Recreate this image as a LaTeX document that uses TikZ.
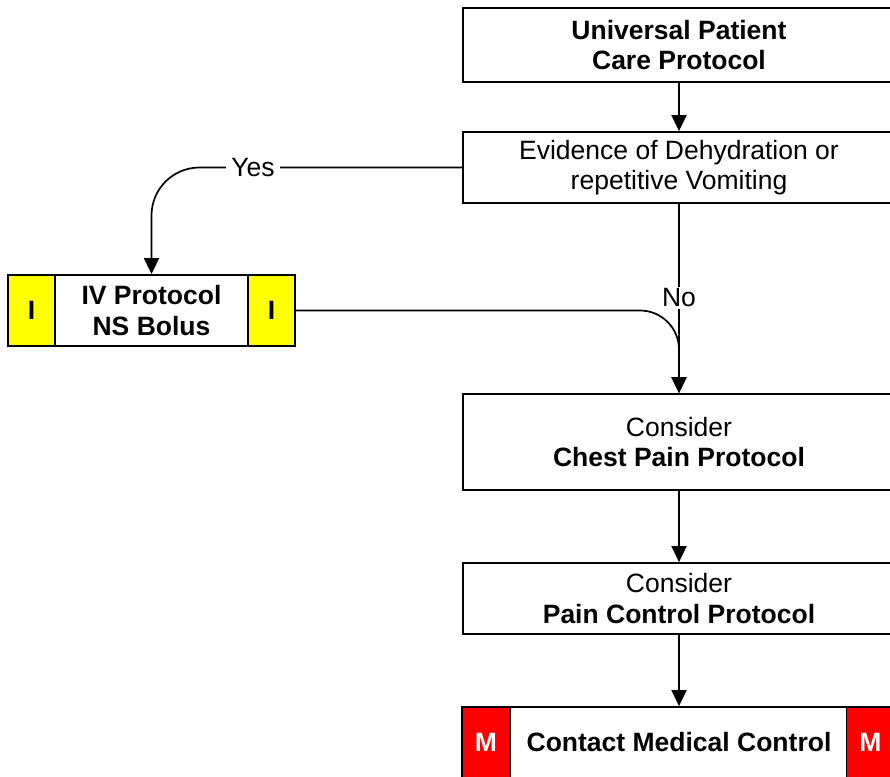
\documentclass[tikz,border=0pt]{standalone}
\usepackage{fontspec}
\setmainfont{Liberation Sans}
\usetikzlibrary{arrows.meta}
\definecolor{ylw}{RGB}{255,255,0}
\definecolor{rd}{RGB}{255,0,0}
\begin{document}
\begin{tikzpicture}[x=1pt,y=-1pt,
  txt/.style={font=\fontsize{26.5}{30.5}\selectfont},
  box/.style={txt, draw=black, line width=1.8pt, fill=white, align=center, inner sep=0pt, minimum width=432pt},
  tag/.style={txt, draw=black, line width=1.8pt, inner sep=0pt, minimum width=47pt, minimum height=71pt, font=\fontsize{26.5}{30.5}\selectfont\bfseries},
  conn/.style={line width=1.7pt, -{Triangle[length=16pt,width=15pt]}},
  lbl/.style={txt, fill=white, inner xsep=5pt, inner ysep=2pt}
]
\useasboundingbox (0,0) rectangle (890,776);
\clip (0,0) rectangle (890,776);

% nodes
\node[box, minimum height=74pt] (b1) at (679,45) {\bfseries Universal Patient\\\bfseries Care Protocol};
\node[box, minimum height=71pt] (b2) at (679,167.5) {Evidence of Dehydration or\\repetitive Vomiting};
\node[box, minimum width=287pt, minimum height=71pt] (iv) at (151.5,310.5) {\bfseries IV Protocol\\\bfseries NS Bolus};
\node[tag, fill=ylw] (ivl) at (31.5,310.5) {I};
\node[tag, fill=ylw] (ivr) at (271.5,310.5) {I};
\node[box, minimum height=96pt] (b3) at (679,442) {Consider\\\bfseries Chest Pain Protocol};
\node[box, minimum height=71pt] (b4) at (679,598.5) {Consider\\\bfseries Pain Control Protocol};
\node[box, minimum height=71pt] (b5) at (679,742.5) {\bfseries Contact Medical Control};
\node[tag, fill=rd, text=white, minimum width=48pt] (ml) at (486,742.5) {M};
\node[tag, fill=rd, text=white, minimum width=48pt] (mr) at (870.5,742.5) {M};

% connectors
\draw[conn] (b1.south) -- (b2.north);
\draw[conn, rounded corners=48pt] (b2.west) -- (iv.north |- b2.west) -- (iv.north);
\node[lbl] (yes) at (253,167.5) {Yes};
\draw[conn] (b2.south) -- (b3.north);
\node[lbl] (no) at (679,298) {No};
\draw[conn, rounded corners=39pt] (ivr.east) -- (b3.north |- ivr.east) -- (b3.north);
\draw[conn] (b3.south) -- (b4.north);
\draw[conn] (b4.south) -- (b5.north);
\end{tikzpicture}
\end{document}
